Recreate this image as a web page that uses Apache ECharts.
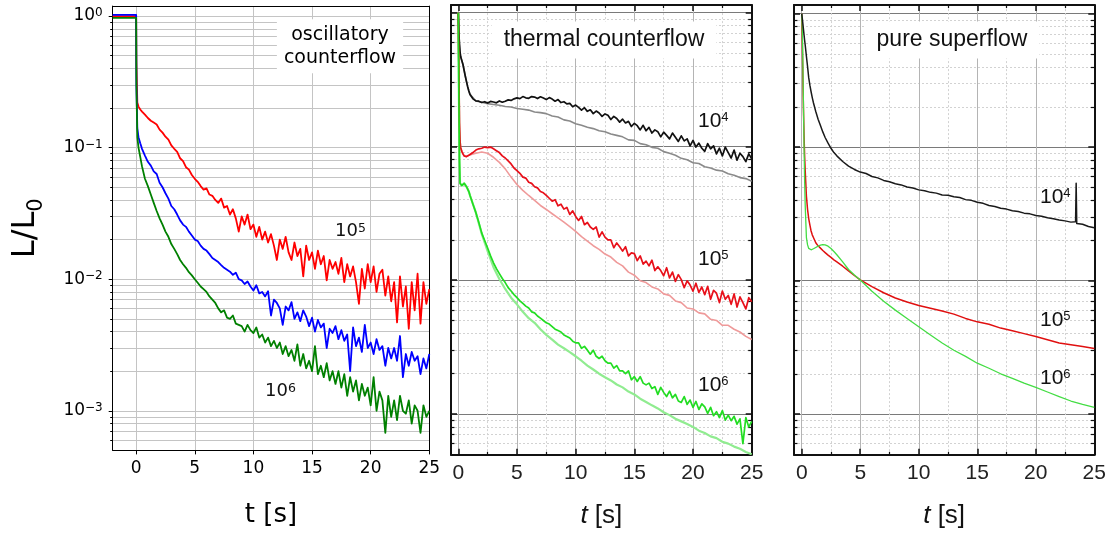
<!DOCTYPE html>
<html><head><meta charset="utf-8">
<script src="https://cdn.jsdelivr.net/npm/echarts@6/dist/echarts.min.js"></script>
<style>html,body{margin:0;padding:0;background:#fff}#c{width:1120px;height:533px}</style>
</head><body><div id="c"></div>
<script>
// ---------------- DATA ----------------
// tick values
const X_TICKS = [0, 5, 10, 15, 20, 25];
const X_MINOR = [2.5, 7.5, 12.5, 17.5, 22.5];
const Y_DECADES = [0.001, 0.01, 0.1, 1];
const Y_MINOR = [0.0006,0.0007,0.0008,0.0009,0.002,0.003,0.004,0.005,0.006,0.007,0.008,0.009,
  0.02,0.03,0.04,0.05,0.06,0.07,0.08,0.09,0.2,0.3,0.4,0.5,0.6,0.7,0.8,0.9];

// Panel 1: oscillatory counterflow
const T1 = [-2, 0, 0.02, 0.1, 0.2, 0.35, 0.5, 0.75,
 1,1.25,1.5,1.75,2,2.25,2.5,2.75,3,3.25,3.5,3.75,4,4.25,4.5,4.75,
 5,5.25,5.5,5.75,6,6.25,6.5,6.75,7,7.25,7.5,7.75,8,8.25,8.5,8.75,
 9,9.25,9.5,9.75,10,10.25,10.5,10.75,11,11.25,11.5,11.75,12,12.25,12.5,12.75,
 13,13.25,13.5,13.75,14,14.25,14.5,14.75,15,15.25,15.5,15.75,16,16.25,16.5,16.75,
 17,17.25,17.5,17.75,18,18.25,18.5,18.75,19,19.25,19.5,19.75,20,20.25,20.5,20.75,
 21,21.25,21.5,21.75,22,22.25,22.5,22.75,23,23.25,23.5,23.75,24,24.25,24.5,24.75,25];
const RED_1E5 = [1.0,1.0,0.45,0.22,0.205,0.195,0.188,0.178,
 0.168,0.160,0.155,0.150, 0.137,0.130,0.121,0.115, 0.104,0.098,0.093,0.083, 0.079,0.071,0.068,0.062,
 0.058,0.055,0.051,0.048, 0.049,0.044,0.043,0.040, 0.038,0.041,0.035,0.036, 0.031,0.034,0.029,0.023,
 0.030,0.026,0.031,0.024, 0.026,0.021,0.025,0.020, 0.023,0.019,0.022,0.018, 0.014,0.020,0.017,0.021,
 0.016,0.014,0.019,0.015, 0.017,0.0105,0.018,0.014, 0.016,0.012,0.0165,0.013, 0.015,0.0098,0.014,0.012,
 0.0135,0.011,0.0145,0.0095, 0.013,0.0105,0.0125,0.0095, 0.0065,0.012,0.0085,0.013, 0.0095,0.0125,0.008,0.011,
 0.0118,0.0075,0.0105,0.0068, 0.0095,0.0047,0.0105,0.0062, 0.0088,0.0042,0.0095,0.0058, 0.0110,0.0046,0.0095,0.0065,
 0.0084];
const BLUE_OSC = [1.02,1.02,0.3,0.14,0.12,0.108,0.098,0.087,
 0.078,0.073,0.066,0.063, 0.054,0.050,0.045,0.041, 0.036,0.034,0.031,0.028, 0.026,0.025,0.023,0.0215,
 0.020,0.0195,0.018,0.017, 0.0165,0.0155,0.0145,0.0140, 0.0135,0.0128,0.0122,0.0118, 0.0114,0.0108,0.0112,0.0100,
 0.0098,0.0092,0.0096,0.0088, 0.0082,0.0090,0.0078,0.0080, 0.0074,0.0081,0.0053,0.0070, 0.0066,0.0060,0.0045,0.0062,
 0.0058,0.0067,0.0050,0.0056, 0.0048,0.0058,0.0052,0.0044, 0.0051,0.0040,0.0049,0.0043, 0.0046,0.0030,0.0042,0.0039,
 0.0044,0.0035,0.0041,0.0034, 0.0038,0.0020,0.0043,0.0031, 0.0036,0.0028,0.0045,0.0030, 0.0033,0.0027,0.0035,0.0029,
 0.0031,0.0022,0.0030,0.0025, 0.0030,0.0024,0.0037,0.0018, 0.0027,0.0022,0.0028,0.0024, 0.0026,0.0019,0.0025,0.0021,
 0.0027];
const GREEN_1E6 = [0.97,0.97,0.3,0.12,0.1,0.085,0.072,0.058,
 0.051,0.044,0.038,0.033, 0.029,0.026,0.023,0.021, 0.0185,0.017,0.0155,0.014, 0.0130,0.0122,0.0113,0.0107,
 0.0100,0.0094,0.0088,0.0084, 0.0080,0.0074,0.0070,0.0066, 0.0060,0.0056,0.0058,0.0051, 0.0050,0.0053,0.0046,0.0045,
 0.0044,0.0040,0.0045,0.0041, 0.0039,0.0043,0.0036,0.0038, 0.0033,0.0036,0.0031,0.0034, 0.0030,0.0033,0.0027,0.0031,
 0.0026,0.0029,0.0024,0.0032, 0.0022,0.0027,0.0021,0.0024, 0.0020,0.0031,0.0019,0.0022, 0.0018,0.0023,0.0017,0.0020,
 0.0016,0.0020,0.0015,0.0019, 0.0013,0.0018,0.0014,0.0017, 0.0012,0.0016,0.0013,0.0015, 0.0011,0.0018,0.0010,0.0014,
 0.0012,0.00068,0.0013,0.0009, 0.0012,0.00085,0.0013,0.0010, 0.00095,0.0012,0.0008,0.0011, 0.0010,0.00068,0.0011,0.0009,
 0.0010];

// Panel 2: thermal counterflow
const T2 = [0,0.05,0.1,0.15,0.2,0.3,0.4,0.5,0.6,0.7,0.8,0.9,1,1.25,1.5,1.75,
 2,2.25,2.5,2.75,3,3.25,3.5,3.75,4,4.25,4.5,4.75,5,5.25,5.5,5.75,6,6.25,6.5,6.75,
 7,7.25,7.5,7.75,8,8.25,8.5,8.75,9,9.25,9.5,9.75,10,10.25,10.5,10.75,11,11.25,11.5,11.75,
 12,12.25,12.5,12.75,13,13.25,13.5,13.75,14,14.25,14.5,14.75,15,15.25,15.5,15.75,16,16.25,16.5,16.75,
 17,17.25,17.5,17.75,18,18.25,18.5,18.75,19,19.25,19.5,19.75,20,20.25,20.5,20.75,
 21,21.25,21.5,21.75,22,22.25,22.5,22.75,23,23.25,23.5,23.75,24,24.25,24.5,24.75,25];
const TC_BLACK = [1.0,0.72,0.58,0.51,0.47,0.44,0.41,0.37,0.335,0.305,0.28,0.26,0.245,
 0.227,0.219,0.218,
 0.213,0.216,0.211,0.217, 0.215,0.212,0.219,0.214, 0.218,0.223,0.221,0.227, 0.231,0.228,0.236,0.231,
 0.229,0.236,0.234,0.228, 0.235,0.230,0.224,0.232, 0.226,0.218,0.224,0.213, 0.216,0.208,0.210,0.198,
 0.204,0.196,0.187,0.195, 0.183,0.188,0.176,0.184, 0.178,0.168,0.175,0.171, 0.159,0.168,0.162,0.152,
 0.160,0.150,0.154,0.141, 0.149,0.143,0.133,0.144, 0.131,0.139,0.126,0.133, 0.129,0.118,0.128,0.121,
 0.114,0.126,0.117,0.109, 0.120,0.110,0.114,0.101, 0.111,0.099,0.106,0.097, 0.092,0.105,0.096,0.101,
 0.088,0.097,0.085,0.099, 0.090,0.082,0.094,0.079, 0.089,0.084,0.077,0.088,
 0.081];
const TC_RED = [1.0,0.4,0.15,0.11,0.098,0.092,0.088,0.085,0.084,0.084,0.085,0.086,0.087,
 0.090,0.094,0.096,
 0.097,0.099,0.098,0.099, 0.096,0.093,0.090,0.085, 0.082,0.078,0.074,0.069, 0.066,0.063,0.059,0.058,
 0.054,0.053,0.050,0.049, 0.046,0.045,0.043,0.041, 0.039,0.040,0.036,0.037, 0.034,0.035,0.031,0.033,
 0.030,0.028,0.030,0.026, 0.027,0.025,0.024,0.025, 0.021,0.023,0.021,0.020, 0.020,0.0175,0.019,0.0178,
 0.0165,0.0178,0.0152,0.0160, 0.0158,0.0140,0.0152,0.0132, 0.0139,0.0128,0.0141,0.0118, 0.0126,0.0118,0.0108,0.0124,
 0.0104,0.0115,0.0098,0.0110, 0.0101,0.0088,0.0099,0.0092, 0.0083,0.0095,0.0081,0.0089, 0.0078,0.0090,0.0072,0.0084,
 0.0080,0.0068,0.0083,0.0072, 0.0077,0.0066,0.0079,0.0063, 0.0075,0.0068,0.0061,0.0074,
 0.0069];
const TC_GREEN = [1.0,0.25,0.08,0.053,0.052,0.051,0.052,0.053,0.052,0.050,0.048,0.046,0.043,
 0.037,0.032,0.027,
 0.0225,0.0198,0.0174,0.0152, 0.0135,0.0122,0.0112,0.0103, 0.0096,0.0088,0.0083,0.0078, 0.0074,0.0070,0.0067,0.0064,
 0.0062,0.0058,0.0057,0.0054, 0.0052,0.0050,0.0048,0.0047, 0.0045,0.0043,0.0042,0.0041, 0.0039,0.0038,0.0037,0.0035,
 0.0034,0.0034,0.0031,0.0032, 0.0030,0.0028,0.0030,0.0027, 0.0026,0.0027,0.0025,0.0024, 0.0024,0.0022,0.0023,0.0021,
 0.0021,0.0020,0.0021,0.0018, 0.0019,0.00175,0.0019,0.0017, 0.00165,0.0017,0.00155,0.0016, 0.0014,0.00158,0.00145,0.00135,
 0.00148,0.00132,0.0014,0.00125, 0.00122,0.00135,0.00118,0.00127, 0.00112,0.00124,0.00108,0.00119, 0.00113,0.00101,0.00112,0.00097,
 0.00104,0.00094,0.00106,0.00090, 0.00098,0.00089,0.00096,0.00084, 0.00092,0.00060,0.00094,0.00080,
 0.00088];
const T2F = [0,0.05,0.1,0.15,0.2,0.3,0.4,0.5,0.6,0.7,0.8,0.9,1,
 1.5,2,2.5,3,3.5,4,4.5,5,5.5,6,6.5,7,7.5,8,8.5,9,9.5,10,10.5,11,11.5,12,12.5,
 13,13.5,14,14.5,15,15.5,16,16.5,17,17.5,18,18.5,19,19.5,20,20.5,21,21.5,22,22.5,23,23.5,24,24.5,25];
const TC_GRAY = [1.0,0.72,0.58,0.51,0.47,0.44,0.41,0.37,0.335,0.305,0.28,0.26,0.245,
 0.219,0.214,0.209,0.206,0.203,0.199,0.197,0.192,0.190,0.187,0.181,0.179,0.176,0.169,0.166,0.158,0.155,0.148,
 0.144,0.139,0.136,0.131,0.129,0.124,0.121,0.118,0.112,0.111,0.105,0.103,0.0985,0.097,0.0915,0.089,
 0.086,0.0815,0.0795,0.0755,0.0745,0.0705,0.069,0.0665,0.0655,0.0625,0.061,0.0585,0.0575,0.055];
const TC_PINK = [1.0,0.4,0.15,0.11,0.098,0.092,0.088,0.085,0.084,0.084,0.085,0.086,0.087,
 0.089,0.091,0.089,0.083,0.076,0.068,0.059,0.052,0.047,0.043,0.0395,0.0362,0.0338,0.0314,0.0292,0.0272,0.0252,0.0232,
 0.0212,0.0196,0.0181,0.0170,0.0157,0.0149,0.0136,0.0128,0.0115,0.0109,0.0099,0.0096,0.0089,0.0086,0.0079,0.0077,
 0.0070,0.0068,0.0062,0.0061,0.0057,0.0056,0.0051,0.0050,0.0046,0.0046,0.0043,0.0041,0.0038,0.0036];
const TC_LGREEN = [1.0,0.25,0.08,0.053,0.052,0.051,0.052,0.053,0.052,0.050,0.048,0.046,0.043,
 0.032,0.0222,0.0165,0.0125,0.0102,0.0086,0.0074,0.0066,0.0058,0.0052,0.0048,0.0043,0.0039,0.0036,0.0033,0.0031,0.0029,0.0027,
 0.0025,0.0023,0.00215,0.0020,0.00188,0.00178,0.00166,0.00158,0.00147,0.0014,0.0013,0.00123,0.00116,0.0011,0.00103,0.00098,
 0.00092,0.00088,0.00084,0.0008,0.00075,0.00072,0.00068,0.00066,0.00062,0.0006,0.00057,0.00055,0.00052,0.0005];

// Panel 3: pure superflow
const T3 = [0,0.05,0.1,0.15,0.2,0.25,0.3,0.4,0.5,0.6,0.7,0.8,0.9,1.0,1.2,1.4,1.6,1.8,2.0,2.25,2.5,2.75,3.0,3.5,4.0,4.5,
 5,6,7,8,9,10,11,12,13,14,15,16,17,18,19,20,21,22,23,24,25];
const SF_RED = [1.0,0.6,0.33,0.19,0.121,0.085,0.066,0.043,0.034,0.029,0.026,0.0235,0.022,0.021,0.0192,0.0182,0.0175,0.0168,
 0.0162,0.0155,0.0149,0.0143,0.0138,0.0128,0.0118,0.0109,
 0.0101,0.0090,0.0081,0.0074,0.0069,0.0065,0.0062,0.0059,0.0056,0.0052,0.0049,0.0047,0.0044,0.0042,0.0040,0.0038,
 0.0036,0.0034,0.0033,0.0032,0.0031];
const SF_GREEN = [1.0,0.75,0.42,0.2,0.1,0.055,0.036,0.021,0.0185,0.0174,0.0171,0.0170,0.0171,0.0173,0.0177,0.0181,0.0184,0.0186,
 0.0185,0.0181,0.0174,0.0165,0.0156,0.0138,0.0121,0.0110,
 0.0101,0.0083,0.0070,0.0060,0.0052,0.0045,0.0039,0.0034,0.0030,0.0027,0.0024,0.0022,0.0020,0.00185,0.0017,0.00158,
 0.00146,0.00135,0.00125,0.00118,0.00112];
const T3K = [0,0.05,0.1,0.15,0.2,0.25,0.3,0.4,0.5,0.6,0.7,0.8,0.9,1.0,1.2,1.4,1.6,1.8,2.0,2.25,2.5,2.75,3.0,3.5,4.0,4.5,
 5,5.5,6,6.5,7,7.5,8,8.5,9,9.5,10,10.5,11,11.5,12,12.5,13,13.5,14,14.5,15,15.5,16,16.5,17,17.5,18,18.5,19,19.5,
 20,20.5,21,21.5,22,22.5,23,23.4,23.45,23.5,24,24.5,25];
const SF_BLACK = [1.0,0.92,0.84,0.76,0.69,0.63,0.58,0.48,0.40,0.33,0.29,0.26,0.235,0.215,0.185,0.162,0.145,0.13,
 0.118,0.107,0.098,0.091,0.086,0.078,0.072,0.068,
 0.0650,0.0634,0.0602,0.0588,0.0563,0.0550,0.0531,0.0521,0.0502,0.0494,0.0478,0.0471,0.0458,0.0452,0.0438,0.0436,
 0.0425,0.0419,0.0404,0.0399,0.0386,0.0379,0.0365,0.0359,0.0348,0.0343,0.0333,0.0329,0.0320,0.0316,
 0.0307,0.0303,0.0295,0.0290,0.0284,0.0280,0.0274,0.0276,0.0535,0.0268,0.0264,0.0254,0.0249];

// ---------------- LAYOUT / STYLE ----------------
const P = [
  {grid: {left: 112.7, top: 6.1, width: 316.6, height: 444.3}, x0: -2,    y0: 0.0005,  y1: 1.19},
  {grid: {left: 451,   top: 5.1, width: 300.7, height: 449.7}, x0: -0.62, y0: 0.000495, y1: 1.14},
  {grid: {left: 794,   top: 5.1, width: 300.3, height: 449.7}, x0: -0.66, y0: 0.000494, y1: 1.16}
];
const L10 = v => Math.log10(v);
const DEC_E = Y_DECADES.map(L10);
const MIN_E = Y_MINOR.map(L10);
const zip = (t, v) => t.map((x, i) => [x, v[i]]);
const line = (c, w) => ({show: true, onZero: false, lineStyle: {color: c, width: w}});
const off = {show: false, onZero: false};
const noTick = {show: false};
const noLab = {show: false};
const noSplit = {show: false};
const sup = (main, s) => '{b|' + main + '}{s|' + s + '}';

const xAxis = [], yAxis = [];
// ---- panel 1 axes
xAxis.push({gridIndex: 0, type: 'value', position: 'bottom', min: P[0].x0, max: 25,
  axisLine: line('#000', 1),
  axisTick: {show: true, inside: false, length: 4, customValues: X_TICKS, lineStyle: {color: '#000', width: 1}},
  axisLabel: {customValues: X_TICKS, margin: 10, fontSize: 17, fontFamily: 'DejaVu Sans', color: '#000'},
  splitLine: {show: true, lineStyle: {color: '#c4c4c4', width: 1}},
  name: 't [s]', nameLocation: 'middle', nameGap: 52, nameMoveOverlap: false,
  nameTextStyle: {fontSize: 26, fontFamily: 'DejaVu Sans', color: '#000'}});
xAxis.push({gridIndex: 0, type: 'value', position: 'top', min: P[0].x0, max: 25,
  axisLine: line('#000', 1), axisTick: noTick, axisLabel: noLab, splitLine: noSplit});
yAxis.push({gridIndex: 0, type: 'log', logBase: 10, min: P[0].y0, max: P[0].y1, show: false});
yAxis.push({gridIndex: 0, type: 'value', position: 'left', min: L10(P[0].y0), max: L10(P[0].y1),
  axisLine: line('#000', 1),
  axisTick: {show: true, inside: false, length: 4, customValues: DEC_E, lineStyle: {color: '#000'}},
  axisLabel: {customValues: DEC_E, margin: 10,
    formatter: v => { const e = Math.round(v); return sup('10', e < 0 ? '\u2212' + (-e) : String(e)); },
    rich: {b: {fontSize: 17, fontFamily: 'DejaVu Sans', color: '#000', lineHeight: 18},
           s: {fontSize: 12, fontFamily: 'DejaVu Sans', color: '#000', verticalAlign: 'top', lineHeight: 11}}},
  splitLine: {show: true, lineStyle: {color: '#c4c4c4', width: 1}},
  name: '{a|L/L}{s|0}', nameLocation: 'middle', nameGap: 71, nameRotate: 90, nameMoveOverlap: false,
  nameTextStyle: {rich: {a: {fontSize: 32, fontFamily: 'DejaVu Sans', color: '#000', lineHeight: 32},
                         s: {fontSize: 21, fontFamily: 'DejaVu Sans', color: '#000', lineHeight: 20, padding: [22, 0, 0, 0]}}}});
yAxis.push({gridIndex: 0, type: 'value', position: 'left', min: L10(P[0].y0), max: L10(P[0].y1),
  axisLine: off,
  axisTick: {show: true, inside: false, length: 2.5, customValues: MIN_E, lineStyle: {color: '#000'}},
  axisLabel: noLab,
  splitLine: {show: true, lineStyle: {color: '#c4c4c4', width: 1}}});
yAxis.push({gridIndex: 0, type: 'value', position: 'right', min: L10(P[0].y0), max: L10(P[0].y1),
  axisLine: line('#000', 1), axisTick: noTick, axisLabel: noLab, splitLine: noSplit});

// ---- panels 2 and 3 axes
for (const gi of [1, 2]) {
  const p = P[gi];
  xAxis.push({gridIndex: gi, type: 'value', position: 'bottom', min: p.x0, max: 25,
    axisLine: line('#111', 2),
    axisTick: {show: true, inside: true, length: 6, customValues: X_TICKS, lineStyle: {color: '#111', width: 1.5}},
    axisLabel: {customValues: X_TICKS, margin: 8, fontSize: 21, fontFamily: 'Liberation Sans', color: '#222'},
    splitLine: {show: true, lineStyle: {color: '#b4b4b4', width: 1}},
    name: '{i|t}{n| [s]}', nameLocation: 'middle', nameGap: 48, nameMoveOverlap: false,
    nameTextStyle: {rich: {i: {fontSize: 26, fontFamily: 'Liberation Sans', fontStyle: 'italic', color: '#111'},
                           n: {fontSize: 26, fontFamily: 'Liberation Sans', color: '#111'}}}});
  xAxis.push({gridIndex: gi, type: 'value', position: 'bottom', min: p.x0, max: 25, axisLine: off,
    axisTick: {show: true, inside: true, length: 3, customValues: X_MINOR, lineStyle: {color: '#111', width: 1.2}},
    axisLabel: noLab, splitLine: {show: true, lineStyle: {color: '#d2d2d2', width: 1, type: [2, 2]}}});
  xAxis.push({gridIndex: gi, type: 'value', position: 'top', min: p.x0, max: 25, axisLine: line('#111', 2),
    axisTick: {show: true, inside: true, length: 6, customValues: X_TICKS, lineStyle: {color: '#111', width: 1.5}},
    axisLabel: noLab, splitLine: noSplit});
  xAxis.push({gridIndex: gi, type: 'value', position: 'top', min: p.x0, max: 25, axisLine: off,
    axisTick: {show: true, inside: true, length: 3, customValues: X_MINOR, lineStyle: {color: '#111', width: 1.2}},
    axisLabel: noLab, splitLine: noSplit});

  yAxis.push({gridIndex: gi, type: 'log', logBase: 10, min: p.y0, max: p.y1, show: false});
  const a = L10(p.y0), b = L10(p.y1);
  yAxis.push({gridIndex: gi, type: 'value', position: 'left', min: a, max: b, axisLine: line('#111', 2),
    axisTick: {show: true, inside: true, length: 6, customValues: DEC_E, lineStyle: {color: '#111', width: 1.5}},
    axisLabel: noLab, splitLine: {show: true, lineStyle: {color: '#7a7a7a', width: 1}}});
  yAxis.push({gridIndex: gi, type: 'value', position: 'left', min: a, max: b, axisLine: off,
    axisTick: {show: true, inside: true, length: 3.5, customValues: MIN_E, lineStyle: {color: '#111', width: 1.2}},
    axisLabel: noLab, splitLine: {show: true, lineStyle: {color: '#d2d2d2', width: 1, type: [2, 2]}}});
  yAxis.push({gridIndex: gi, type: 'value', position: 'right', min: a, max: b, axisLine: line('#111', 2),
    axisTick: {show: true, inside: true, length: 6, customValues: DEC_E, lineStyle: {color: '#111', width: 1.5}},
    axisLabel: noLab, splitLine: noSplit});
  yAxis.push({gridIndex: gi, type: 'value', position: 'right', min: a, max: b, axisLine: off,
    axisTick: {show: true, inside: true, length: 3.5, customValues: MIN_E, lineStyle: {color: '#111', width: 1.2}},
    axisLabel: noLab, splitLine: noSplit});
}
// axis indices: panel1 x0 / y0; panel2 x2 / y4; panel3 x6 / y9
const AX = [{x: 0, y: 0}, {x: 2, y: 4}, {x: 6, y: 9}];

function ser(panel, t, v, color, width) {
  return {type: 'line', xAxisIndex: AX[panel].x, yAxisIndex: AX[panel].y, data: zip(t, v),
    showSymbol: false, symbol: 'none', clip: true, silent: true, z: 3,
    lineStyle: {color: color, width: width, join: 'round'}};
}
const series = [
  ser(0, T1, RED_1E5, '#ff0000', 1.8),
  ser(0, T1, BLUE_OSC, '#0000ff', 1.8),
  ser(0, T1, GREEN_1E6, '#008000', 1.8),
  ser(1, T2F, TC_GRAY, '#8a8a8a', 1.6),
  ser(1, T2F, TC_PINK, '#ef9a9a', 1.6),
  ser(1, T2F, TC_LGREEN, '#90ec90', 2.2),
  ser(1, T2, TC_BLACK, '#111111', 1.7),
  ser(1, T2, TC_RED, '#e8101a', 1.7),
  ser(1, T2, TC_GREEN, '#22dd22', 1.7),
  ser(2, T3, SF_RED, '#e01010', 1.5),
  ser(2, T3, SF_GREEN, '#44dd44', 1.3),
  ser(2, T3K, SF_BLACK, '#1a1a1a', 1.5)
];

function txt(x, y, text, size, family, opts) {
  return Object.assign({type: 'text', x: x, y: y, z: 100, silent: true,
    style: Object.assign({text: text, fontSize: size, fontFamily: family, fill: '#000',
      align: 'left', verticalAlign: 'middle'}, opts || {})});
}
function supTxt(x, y, main, s, size, ssize, family) {
  return {type: 'text', x: x, y: y, z: 100, silent: true,
    style: {text: sup(main, s), align: 'left', verticalAlign: 'middle', fill: '#000',
      rich: {b: {fontSize: size, fontFamily: family, fill: '#111', lineHeight: size},
             s: {fontSize: ssize, fontFamily: family, fill: '#111', verticalAlign: 'top', lineHeight: ssize - 1}}}};
}
const graphic = [
  txt(340, 46.3, 'oscillatory\ncounterflow', 19, 'DejaVu Sans',
    {align: 'center', lineHeight: 23, backgroundColor: '#fff', padding: [4, 7]}),
  supTxt(335, 231, '10', '5', 18, 12.5, 'DejaVu Sans'),
  supTxt(265, 391, '10', '6', 18, 12.5, 'DejaVu Sans'),
  txt(604, 40, 'thermal counterflow', 23, 'Liberation Sans',
    {align: 'center', fill: '#111', backgroundColor: '#fff', padding: [7, 12]}),
  supTxt(698, 121.7, '10', '4', 21, 13, 'Liberation Sans'),
  supTxt(698, 259, '10', '5', 21, 13, 'Liberation Sans'),
  supTxt(698, 385, '10', '6', 21, 13, 'Liberation Sans'),
  txt(952, 40, 'pure superflow', 23, 'Liberation Sans',
    {align: 'center', fill: '#111', backgroundColor: '#fff', padding: [7, 12]}),
  supTxt(1040, 197.5, '10', '4', 21, 13, 'Liberation Sans'),
  supTxt(1040, 320, '10', '5', 21, 13, 'Liberation Sans'),
  supTxt(1040, 378, '10', '6', 21, 13, 'Liberation Sans')
];

const chart = echarts.init(document.getElementById('c'), null, {renderer: 'canvas', devicePixelRatio: 1});
chart.setOption({
  animation: false,
  backgroundColor: '#fff',
  grid: P.map(p => Object.assign({containLabel: false, outerBoundsMode: 'none'}, p.grid)),
  xAxis: xAxis,
  yAxis: yAxis,
  series: series,
  graphic: graphic
});
</script></body></html>
